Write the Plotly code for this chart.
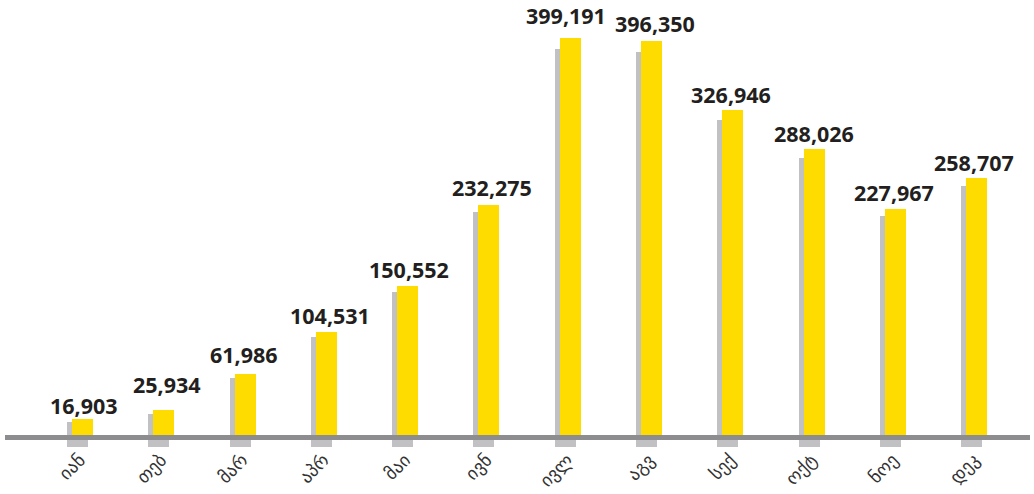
import plotly.graph_objects as go

months = ["იან", "თებ", "მარ", "აპრ", "მაი", "ივნ", "ივლ", "აგვ", "სექ", "ოქტ", "ნოე", "დეკ"]
values = [16903, 25934, 61986, 104531, 150552, 232275, 399191, 396350, 326946, 288026, 227967, 258707]

YELLOW = "#FFDC00"
SHADOW = "#C1C1C3"
AXIS = "#8D8D90"
TEXT = "#231F20"

# per-label nudges (px), styling only
label_dy = [-3, 9, 3, 0, 0, 1, 6, 1, -1, -1, 0, -1]
label_dx = [4, 6, 1, 6, 4, 6, -2, 6, 1, 2, 1, 0]

x_idx = list(range(len(months)))
shadow_base = -11000
shadow_top = [0.98 * v - 3000 for v in values]

fig = go.Figure()
fig.add_trace(go.Bar(
    x=x_idx, y=[t - shadow_base for t in shadow_top], base=shadow_base,
    width=0.258, offset=-0.16, marker=dict(color=SHADOW, line=dict(width=0)),
    hoverinfo="skip", showlegend=False,
))
fig.add_trace(go.Bar(
    x=x_idx, y=values,
    width=0.258, offset=-0.098, marker=dict(color=YELLOW, line=dict(width=0)),
    showlegend=False,
))

for i, v in enumerate(values):
    fig.add_annotation(
        x=i, y=v, text=f"{v:,}", showarrow=False, yanchor="bottom", xanchor="center",
        xshift=label_dx[i], yshift=label_dy[i],
        font=dict(family="Open Sans", size=21.5, color=TEXT, weight="bold"),
    )

fig.add_shape(type="line", xref="paper", x0=0, x1=1, yref="y", y0=-1505, y1=-1505,
              line=dict(color=AXIS, width=5), layer="above")

fig.update_layout(
    width=1034, height=494,
    margin=dict(l=5, r=4, t=0, b=46, autoexpand=False),
    paper_bgcolor="white", plot_bgcolor="white",
    barmode="overlay", bargap=0,
    xaxis=dict(
        range=[-0.922, 11.686], tickmode="array", tickvals=x_idx, ticktext=months,
        tickangle=-45, showgrid=False, zeroline=False, showline=False, ticks="",
        automargin=False, ticklabelstandoff=-3,
        tickfont=dict(family="DejaVu Sans", size=18, color="#333333"),
    ),
    yaxis=dict(range=[-12041, 437487], visible=False, showgrid=False, zeroline=False,
               automargin=False),
)

fig.write_html("out.html", config={"displayModeBar": False},
               post_script="document.body.style.margin='0';")
